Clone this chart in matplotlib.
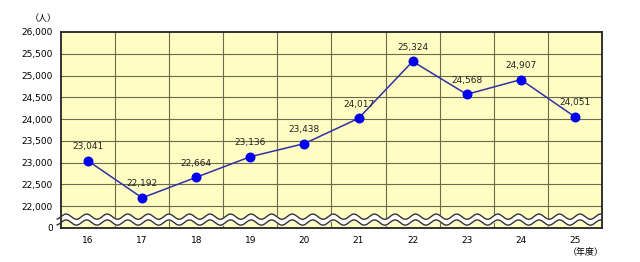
import numpy as np
import matplotlib.pyplot as plt

plt.rcParams['font.family'] = ['DejaVu Sans', 'Noto Sans CJK JP']

years = ['16', '17', '18', '19', '20', '21', '22', '23', '24', '25']
counts = [23041, 22192, 22664, 23136, 23438, 24017, 25324, 24568, 24907, 24051]
# 0 is drawn one step below 22,000 (broken axis)
ytick_vals = [21500, 22000, 22500, 23000, 23500, 24000, 24500, 25000, 25500, 26000]
ytick_labels = ['0', '22,000', '22,500', '23,000', '23,500', '24,000',
                '24,500', '25,000', '25,500', '26,000']

fig = plt.figure(figsize=(6.4, 2.62), dpi=100)
ax = fig.add_axes([0.0953, 0.1298, 0.8453, 0.7482])
ax.set_facecolor('#FFFDC2')

x = np.arange(len(years))
ax.set_xlim(-0.5, len(years) - 0.5)
ax.set_ylim(21500, 26000)

# grid
for v in ytick_vals[1:-1]:
    ax.axhline(v, color='#6b6b50', lw=0.8, zorder=1)
for k in range(1, len(years)):
    ax.axvline(k - 0.5, color='#6b6b50', lw=0.8, zorder=1)

# wavy break band
wx = np.linspace(-0.57, len(years) - 0.5, 800)
wave = 60 * np.sin(2 * np.pi * (wx + 0.5) / 0.38)
ax.fill_between(wx, 21625 + wave, 21760 + wave, color='white', zorder=2, clip_on=False)
ax.plot(wx, 21625 + wave, color='#333333', lw=1.0, zorder=3, clip_on=False)
ax.plot(wx, 21760 + wave, color='#333333', lw=1.0, zorder=3, clip_on=False)

# data line
ax.plot(x, counts, color='#3030A8', lw=1.1, zorder=4)
ax.scatter(x, counts, s=38, color='#0000EE', zorder=5)
for xi, c in zip(x, counts):
    ax.annotate(f'{c:,}', (xi, c), xytext=(0, 7), textcoords='offset points',
                ha='center', va='bottom', fontsize=6.5, color='#222222', zorder=6)

ax.set_xticks(x)
ax.set_xticklabels(years, fontsize=6.5)
ax.set_yticks(ytick_vals)
ax.set_yticklabels(ytick_labels, fontsize=6.5)
ax.tick_params(length=0, pad=6)
for s in ax.spines.values():
    s.set_linewidth(1.3)
    s.set_color('#222222')

fig.text(0.088, 0.93, '（人）', fontsize=6.5, ha='right', va='center')
fig.text(0.915, 0.035, '（年度）', fontsize=6.5, ha='center', va='center')

fig.savefig('out.png', dpi=100)
